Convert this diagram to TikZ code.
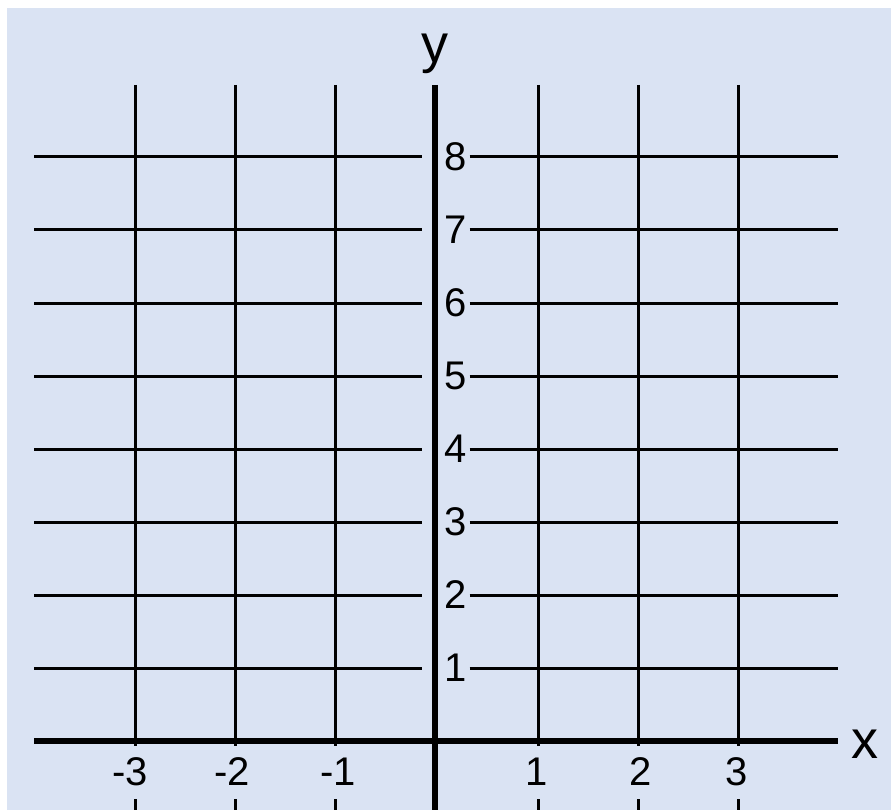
\documentclass[tikz,border=0pt]{standalone}
\usepackage{fontspec}
\setmainfont{Liberation Sans}
\definecolor{bgblue}{HTML}{DAE3F3}
\begin{document}
\begin{tikzpicture}[x=1pt,y=-1pt,
  gridline/.style={line width=3pt},
  axisline/.style={line width=6pt},
  ylab/.style={anchor=west, inner sep=0pt, font=\fontsize{40}{43}\selectfont},
  xlab/.style={fill=bgblue, inner sep=2pt, minimum height=53pt, font=\fontsize{40}{43}\selectfont},
  axname/.style={inner sep=0pt, font=\fontsize{54}{58}\selectfont}]
\useasboundingbox (0,0) rectangle (891,810);
\fill[white] (0,0) rectangle (891,810);
\fill[bgblue] (7,8) rectangle (891,810);
% vertical grid lines
\foreach \x in {135,235,335,538,638,738}
  \draw[gridline] (\x,85) -- (\x,810);
% horizontal grid lines with y labels
\foreach \y/\n in {157/8,230/7,303/6,376/5,449/4,522/3,595/2,668/1}{
  \node[ylab] (yl\n) at (444,\y) {\n};
  \draw[gridline] (34,\y) -- (422,\y);
  \draw[gridline] ([xshift=3pt]yl\n.east) -- (838,\y);
}
% x labels
\foreach \x/\t/\n in {130/-3/m3,232/-2/m2,338/-1/m1,537/1/p1,641/2/p2,737/3/p3}
  \node[xlab] (xl\n) at (\x,772) {\t};
% axes
\draw[axisline] (34,741) -- (838,741);
\draw[axisline] (435,85) -- (435,810);
\node[axname] (xname) at (865,744) {x};
\node[axname] (yname) at (435,54) {y};
\end{tikzpicture}
\end{document}
